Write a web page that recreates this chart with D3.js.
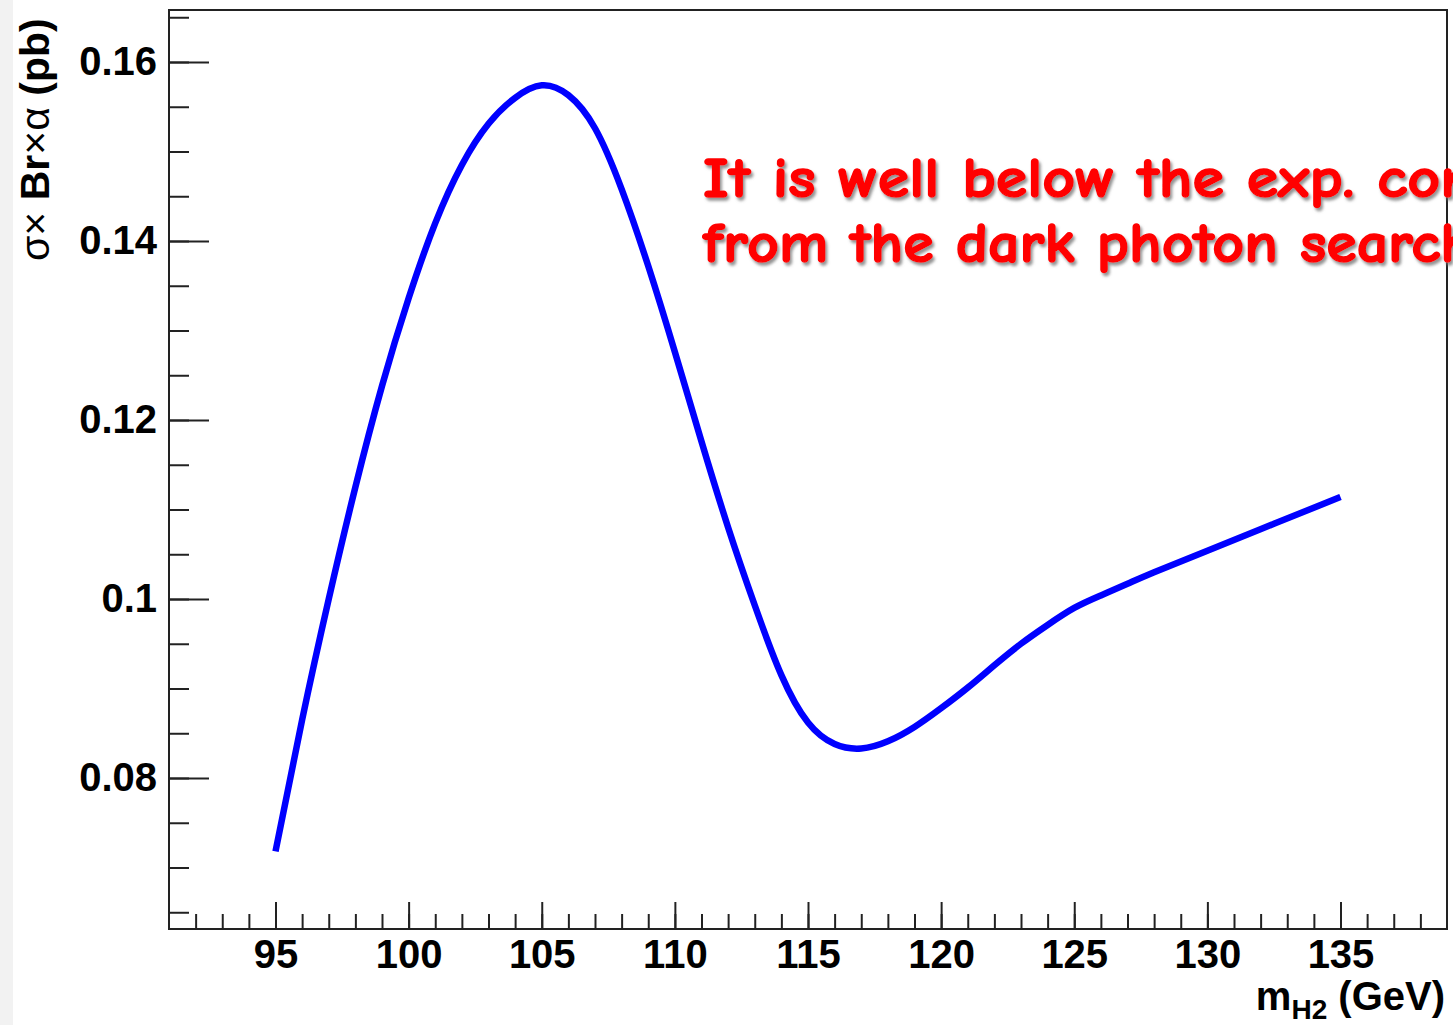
<!DOCTYPE html>
<html>
  <head>
    <title>sigma x Br x alpha vs mH2</title>
    <style>
      body { margin: 0; background: #fff; }
      svg { display: block; }
    </style>
  </head>

  <body>
    <svg id='chart'></svg>

    <script src="https://d3js.org/d3.v7.min.js" type="text/javascript"></script>
    <script>

// values
const mass = [95, 96, 97, 98, 99, 100, 101, 102, 103, 104, 105, 106, 107, 108, 109, 110, 111, 112, 113, 114,
              115, 116, 117, 118, 119, 120, 121, 122, 123, 124, 125, 126, 127, 128, 130, 132.5, 135];
const xsec = [0.0718, 0.0865, 0.1000, 0.1125, 0.1238, 0.1336, 0.1420, 0.1485, 0.1531, 0.1560, 0.1574, 0.1563,
              0.1526, 0.1458, 0.1372, 0.1276, 0.1176, 0.1080, 0.0993, 0.0915, 0.0862, 0.0838, 0.0833, 0.0841,
              0.0857, 0.0878, 0.0901, 0.0926, 0.0950, 0.0971, 0.0990, 0.1004, 0.1017, 0.1030, 0.1054, 0.1084, 0.1114];

const xMajor = [95, 100, 105, 110, 115, 120, 125, 130, 135];
const yMajor = [0.08, 0.10, 0.12, 0.14, 0.16];
const yLabels = ['0.08', '0.1', '0.12', '0.14', '0.16'];
const note = ['It is well below the exp. con', 'from the dark photon search'];

const W = 1453, H = 1025;
const frame = {left: 169, top: 10, right: 1447, bottom: 929};

const svg = d3.select('#chart')
  .attr('width', W)
  .attr('height', H);

// grey strip at the left edge of the slide
svg.append('rect').attr('x', 0).attr('y', 0).attr('width', 13).attr('height', H).attr('fill', '#f2f2f2');

const x = d3.scaleLinear().domain([91, 139]).range([frame.left, frame.right]);
const y = d3.scaleLinear().domain([0.06313, 0.16581]).range([frame.bottom, frame.top]);

const font = "'Liberation Sans', Arial, Helvetica, sans-serif";

// minor ticks
svg.append('g')
  .attr('transform', `translate(${frame.left},0)`)
  .call(d3.axisLeft(y).tickValues(d3.range(0.065, 0.166, 0.005)).tickSize(-20).tickFormat(''));
svg.append('g')
  .attr('transform', `translate(0,${frame.bottom})`)
  .call(d3.axisBottom(x).tickValues(d3.range(92, 139, 1)).tickSize(-15).tickFormat(''));

// major ticks
svg.append('g')
  .attr('transform', `translate(${frame.left},0)`)
  .call(d3.axisLeft(y).tickValues(yMajor).tickSize(-40).tickPadding(12)
    .tickFormat((d, i) => yLabels[i]));
svg.append('g')
  .attr('transform', `translate(0,${frame.bottom})`)
  .call(d3.axisBottom(x).tickValues(xMajor).tickSize(-27).tickPadding(11));

svg.selectAll('.domain').remove();
svg.selectAll('.tick line').attr('stroke', '#222').attr('stroke-width', 2);
svg.selectAll('.tick text')
  .attr('font-family', font)
  .attr('font-size', 40)
  .attr('font-weight', 'bold')
  .attr('fill', '#000');

// frame
svg.append('rect')
  .attr('x', frame.left).attr('y', frame.top)
  .attr('width', frame.right - frame.left).attr('height', frame.bottom - frame.top)
  .attr('fill', 'none').attr('stroke', '#222').attr('stroke-width', 2);

// curve
const pts = mass.map((m, i) => [m, xsec[i]]);
svg.append('path')
  .datum(pts)
  .attr('fill', 'none')
  .attr('stroke', '#0000ff')
  .attr('stroke-width', 6.5)
  .attr('d', d3.line().x(d => x(d[0])).y(d => y(d[1])).curve(d3.curveNatural));

// y axis title
const yt = svg.append('text')
  .attr('transform', 'translate(49,261) rotate(-90)')
  .attr('font-family', font)
  .attr('font-size', 41)
  .attr('fill', '#000');
yt.append('tspan').text('σ×');
yt.append('tspan').attr('font-weight', 'bold').text(' Br');
yt.append('tspan').text('×α');
yt.append('tspan').attr('font-weight', 'bold').text(' (pb)');

// x axis title
const xt = svg.append('text')
  .attr('x', 1445).attr('y', 1010)
  .attr('text-anchor', 'end')
  .attr('font-family', font)
  .attr('font-size', 40)
  .attr('font-weight', 'bold')
  .attr('fill', '#000');
xt.append('tspan').text('m');
xt.append('tspan').attr('font-size', 28).attr('dy', 9).text('H2');
xt.append('tspan').attr('dy', -9).text(' (GeV)');

// red note with shadow
const defs = svg.append('defs');
defs.append('filter').attr('id', 'shadow')
  .attr('x', '-5%').attr('y', '-20%').attr('width', '120%').attr('height', '150%')
  .append('feDropShadow')
  .attr('dx', 2).attr('dy', 3).attr('stdDeviation', 1.5)
  .attr('flood-color', '#777').attr('flood-opacity', 0.8);

svg.selectAll('.note')
  .data(note)
  .enter().append('text')
  .attr('class', 'note')
  .attr('x', 703)
  .attr('y', (d, i) => 197 + i * 65)
  .attr('font-family', "'Comic Sans MS', 'Comic Neue', 'DejaVu Sans', sans-serif")
  .attr('font-size', 57)
  .attr('font-weight', 'bold')
  .attr('fill', '#ff0000')
  .attr('stroke', '#ff0000')
  .attr('stroke-width', 1.5)
  .attr('textLength', (d, i) => i === 0 ? 772 : 770)
  .attr('lengthAdjust', 'spacingAndGlyphs')
  .attr('filter', 'url(#shadow)')
  .text(d => d);

</script>
  </body>
</html>
